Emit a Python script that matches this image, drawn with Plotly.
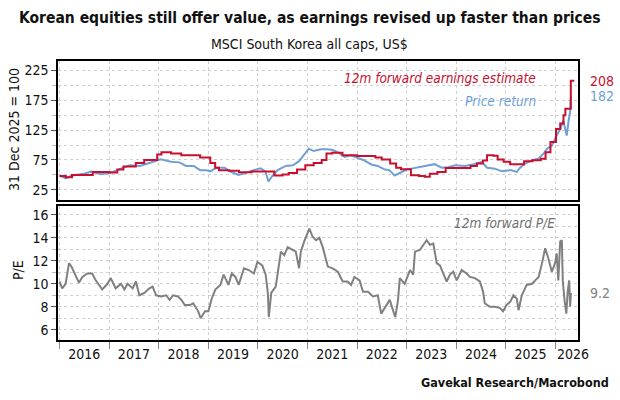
import plotly.graph_objects as go
from plotly.subplots import make_subplots

# ---------------- data ----------------
earn_dates = ["2016-01-01","2016-02-15","2016-04-01","2016-09-01","2017-01-01","2017-03-01","2017-04-15",
              "2017-07-15","2017-09-15","2017-12-20","2018-01-20","2018-04-01","2018-06-15","2018-11-01",
              "2019-01-15","2019-02-20","2019-03-20","2019-06-01","2019-08-15","2019-11-15","2020-05-01",
              "2020-07-01","2020-08-15","2020-10-15","2020-12-15","2021-02-15","2021-04-15","2021-05-20",
              "2021-07-01","2021-09-15","2022-01-01","2022-05-15","2022-07-01","2022-09-01","2022-10-15",
              "2022-11-20","2023-02-01","2023-04-01","2023-05-15","2023-06-20","2023-08-15","2023-10-15",
              "2024-04-15","2024-06-01","2024-07-15","2024-08-15","2024-10-01","2024-11-01","2024-12-15",
              "2025-02-01","2025-05-15","2025-07-15","2025-09-15","2025-10-20","2025-11-25","2026-01-05",
              "2026-02-05","2026-03-01","2026-03-15","2026-04-24","2026-05-20"]
earn_vals = [48,46,50,55,54,59,64,70,75,84,88,86,83,79,70,62,58,57,54.5,55.6,49,50.5,53,59,66,70,75,86,
             87,83,81.6,79,76,69,62,59.5,49.4,48,46.7,52,55,61.7,65,69,74,83,82,76,72,68,73,74.5,77,88,
             105,127,136,150,161,208,208]

price_dates = ["2016-01-01","2016-02-15","2016-04-01","2016-07-01","2016-08-20","2016-11-01","2017-01-01",
               "2017-03-20","2017-06-01","2017-08-15","2017-11-01","2018-01-15","2018-04-01","2018-06-01",
               "2018-07-20","2018-09-15","2018-11-01","2018-12-15","2019-01-15","2019-03-01","2019-05-01",
               "2019-06-10","2019-08-10","2019-10-01","2019-12-01","2020-01-20","2020-02-25","2020-03-18",
               "2020-04-15","2020-05-25","2020-07-25","2020-09-15","2020-10-30","2020-12-05","2021-01-10",
               "2021-02-15","2021-04-10","2021-05-20","2021-07-01","2021-08-10","2021-10-01","2021-11-15",
               "2022-01-01","2022-02-15","2022-04-15","2022-06-01","2022-07-25","2022-08-25","2022-10-05",
               "2022-11-10","2023-01-01","2023-02-05","2023-03-28","2023-05-25","2023-07-25","2023-09-15",
               "2023-11-01","2023-12-25","2024-03-05","2024-05-08","2024-07-08","2024-08-15","2024-10-12",
               "2024-12-01","2025-02-03","2025-03-22","2025-04-16","2025-05-22","2025-07-12","2025-08-28",
               "2025-10-05","2025-10-30","2025-12-05","2026-01-10","2026-02-05","2026-02-28","2026-03-14",
               "2026-03-25","2026-04-08","2026-04-18","2026-04-25"]
price_vals = [49,44,49,52,55.6,51,53,60,66,65,71,76,72,71,65,65,58,58,56,62,62,56,50,53,58,61,56,39,48,
              58,65,66,73,84,94,90,93,93,92,88,80,83,79,75,67.5,65,59,58,49,53,59,60.5,63,66,68,62,63,66,
              65,68,72,62,60.5,56,58,55,62,69,74.5,77,85.5,94,99,116,127,141,124,116,141,155,182]

pe_dates = ["2016-01-01","2016-01-20","2016-02-14","2016-03-10","2016-03-28","2016-04-26","2016-05-22",
            "2016-06-17","2016-07-23","2016-08-28","2016-09-23","2016-11-10","2016-12-19","2017-01-11",
            "2017-02-17","2017-03-28","2017-04-22","2017-05-16","2017-06-22","2017-07-16","2017-08-10",
            "2017-09-16","2017-10-23","2017-11-16","2017-12-12","2018-01-19","2018-02-24","2018-03-21",
            "2018-04-15","2018-05-22","2018-06-16","2018-07-11","2018-08-18","2018-09-11","2018-10-18",
            "2018-11-05","2018-12-07","2019-01-01","2019-01-25","2019-02-21","2019-03-30","2019-04-23",
            "2019-05-29","2019-06-22","2019-07-19","2019-08-12","2019-09-20","2019-10-26","2019-12-02",
            "2019-12-28","2020-02-02","2020-02-27","2020-03-14","2020-03-21","2020-04-08","2020-05-11",
            "2020-05-23","2020-06-18","2020-07-13","2020-08-07","2020-09-13","2020-10-06","2020-10-30",
            "2020-11-12","2020-12-07","2021-01-14","2021-02-07","2021-03-04","2021-03-29","2021-04-22",
            "2021-05-30","2021-07-05","2021-08-11","2021-09-17","2021-10-23","2021-11-17","2021-12-12",
            "2022-01-19","2022-02-13","2022-03-22","2022-04-27","2022-06-02","2022-06-27","2022-08-03",
            "2022-08-29","2022-09-30","2022-10-09","2022-10-29","2022-11-11","2022-12-17","2023-01-25",
            "2023-02-18","2023-03-03","2023-04-08","2023-05-04","2023-05-28","2023-06-21","2023-07-16",
            "2023-08-10","2023-09-03","2023-09-27","2023-10-22","2023-11-16","2023-12-10","2024-01-04",
            "2024-02-10","2024-03-17","2024-04-11","2024-05-17","2024-06-23","2024-07-17","2024-07-29",
            "2024-09-04","2024-10-10","2024-11-16","2024-12-11","2025-01-05","2025-02-03","2025-02-25",
            "2025-03-22","2025-04-04","2025-04-28","2025-06-03","2025-07-12","2025-08-05","2025-08-30",
            "2025-09-24","2025-10-17","2025-11-10","2025-12-05","2025-12-29","2026-01-10","2026-01-22",
            "2026-02-05","2026-02-17","2026-02-24","2026-03-10","2026-03-22","2026-04-01","2026-04-12",
            "2026-04-19","2026-04-25"]
pe_vals = [10.2,9.6,10.0,11.8,11.5,10.8,10.1,10.6,10.9,10.9,10.3,9.5,10.0,10.5,9.6,10.0,9.5,10.0,9.6,10.2,
           9.0,9.2,9.6,9.75,9.0,8.9,9.0,8.6,9.0,8.9,8.6,8.15,8.15,8.3,7.6,7.0,7.6,7.6,8.7,9.5,9.9,10.8,
           9.9,10.9,10.6,9.9,11.35,11.2,10.9,11.9,11.6,10.8,9.2,7.1,9.2,9.75,10.8,12.8,12.5,13.2,12.95,
           12.8,11.35,12.8,13.7,14.8,14.1,13.8,14.0,13.2,11.5,11.35,11.05,10.2,10.2,9.9,10.6,10.3,9.3,
           9.3,8.9,9.0,7.4,8.15,8.6,7.4,7.1,8.6,10.5,10.0,11.2,10.8,12.8,12.95,13.4,13.8,13.4,13.5,11.8,
           11.6,10.9,10.2,10.8,11.05,10.3,11.2,10.9,10.6,10.5,10.2,9.3,8.3,8.0,8.0,7.9,7.6,8.15,8.45,9.0,
           8.7,7.7,9.0,9.9,10.0,10.3,10.6,11.8,13.1,12.2,11.05,11.8,12.65,10.3,13.7,13.8,10.2,8.45,7.4,
           9.3,10.3,8.0,9.2]

year_labels = ["2016","2017","2018","2019","2020","2021","2022","2023","2024","2025","2026"]
top_ticks = [25, 75, 125, 175, 225]
pe_ticks = [6, 8, 10, 12, 14, 16]

# ---------------- style ----------------
FONT = "DejaVu Sans Condensed, Roboto, sans-serif"
RED = "#C8102E"
BLUE = "#6F9FD6"
GREY = "#808080"
GRID = "#cfcfcf"
X_END = "2026-06-16"

# label positions: middle of each year (last one kept inside the axis)
label_pos = [f"{y}-07-01" if y != year_labels[-1] else f"{y}-05-10" for y in year_labels]

fig = make_subplots(rows=2, cols=1, shared_xaxes=True, vertical_spacing=0.02)

fig.add_trace(go.Scatter(x=price_dates, y=price_vals, mode="lines", line=dict(color=BLUE, width=2),
                         showlegend=False), row=1, col=1)
fig.add_trace(go.Scatter(x=earn_dates, y=earn_vals, mode="lines", line=dict(color=RED, width=2, shape="hv"),
                         showlegend=False), row=1, col=1)
fig.add_trace(go.Scatter(x=pe_dates, y=pe_vals, mode="lines", line=dict(color=GREY, width=2),
                         showlegend=False), row=2, col=1)

xcommon = dict(type="date", range=["2015-12-20", X_END],
               tickvals=label_pos, ticktext=year_labels, ticks="", showgrid=False,
               minor=dict(dtick="M12", tick0="2016-01-01", showgrid=True, gridcolor=GRID,
                          griddash="dot", gridwidth=1),
               showline=True, linecolor="black", linewidth=1.5, mirror=True, zeroline=False)
fig.update_xaxes(**xcommon)
fig.update_xaxes(showticklabels=False, row=1, col=1)
fig.update_xaxes(minor=dict(ticks="outside", ticklen=7, tickcolor="#888888"),
                 tickfont=dict(family=FONT, size=14, color="#111"), row=2, col=1)

fig.update_yaxes(range=[8, 241], tickvals=top_ticks, showgrid=True, gridcolor=GRID, griddash="dot",
                 ticks="outside", ticklen=5, tickcolor="#555",
                 minor=dict(dtick=25, tick0=0, showgrid=True, gridcolor=GRID, griddash="dot",
                            ticks="outside", ticklen=4, tickcolor="#bbbbbb"),
                 showline=True, linecolor="black", linewidth=1.5, mirror=True, zeroline=False,
                 tickfont=dict(family=FONT, size=14, color="#111"), row=1, col=1)
fig.update_yaxes(range=[5.1, 16.8], tickvals=pe_ticks, showgrid=True, gridcolor=GRID, griddash="dot",
                 ticks="outside", ticklen=5, tickcolor="#555",
                 minor=dict(dtick=1, tick0=0, showgrid=True, gridcolor=GRID, griddash="dot",
                            ticks="outside", ticklen=4, tickcolor="#bbbbbb"),
                 showline=True, linecolor="black", linewidth=1.5, mirror=True, zeroline=False,
                 tickfont=dict(family=FONT, size=14, color="#111"), row=2, col=1)

fig.update_layout(
    width=620, height=400,
    margin=dict(l=58, r=42, t=61, b=60),
    paper_bgcolor="white", plot_bgcolor="white",
    font=dict(family=FONT, color="#111"),
)
fig.update_yaxes(domain=[0.502, 1.0], row=1, col=1)
fig.update_yaxes(domain=[0.0, 0.481], row=2, col=1)

ann = []
ann.append(dict(text="<b>Korean equities still offer value, as earnings revised up faster than prices</b>",
                xref="paper", yref="paper", x=(310 - 58) / 520, y=1 + (61 - 18) / 279,
                xanchor="center", yanchor="middle", showarrow=False,
                font=dict(family=FONT, size=15.5, color="#111")))
ann.append(dict(text="MSCI South Korea all caps, US$", xref="paper", yref="paper",
                x=(309 - 58) / 520, y=1 + (61 - 44) / 279, xanchor="center", yanchor="middle",
                showarrow=False, font=dict(family=FONT, size=14, color="#111")))
ann.append(dict(text="<b>Gavekal Research/Macrobond</b>", xref="paper", yref="paper",
                x=(611 - 58) / 520, y=-(382 - 340) / 279, xanchor="right", yanchor="middle",
                showarrow=False, font=dict(family=FONT, size=12.5, color="#111")))
ann.append(dict(text="31 Dec 2025 = 100", xref="paper", yref="paper", x=(14 - 58) / 520,
                y=(340 - 130) / 279, textangle=-90, xanchor="center", yanchor="middle",
                showarrow=False, font=dict(family=FONT, size=14, color="#111")))
ann.append(dict(text="P/E", xref="paper", yref="paper", x=(18 - 58) / 520,
                y=(340 - 270) / 279, textangle=-90, xanchor="center", yanchor="middle",
                showarrow=False, font=dict(family=FONT, size=14, color="#111")))
ann.append(dict(text="<i>12m forward earnings estimate</i>", xref="paper", yref="paper",
                x=(538 - 58) / 520, y=(340 - 78) / 279, xanchor="right", yanchor="middle",
                showarrow=False, font=dict(family=FONT, size=13.5, color=RED)))
ann.append(dict(text="<i>Price return</i>", xref="paper", yref="paper",
                x=(538 - 58) / 520, y=(340 - 101) / 279, xanchor="right", yanchor="middle",
                showarrow=False, font=dict(family=FONT, size=13.5, color=BLUE)))
ann.append(dict(text="<i>12m forward P/E</i>", xref="paper", yref="paper",
                x=(557 - 58) / 520, y=(340 - 223) / 279, xanchor="right", yanchor="middle",
                showarrow=False, font=dict(family=FONT, size=13.5, color="#707070")))
# end-value labels
ann.append(dict(text=f"{earn_vals[-1]:g}", xref="paper", yref="y", x=(588 - 58) / 520, y=earn_vals[-1],
                xanchor="left", yanchor="middle", showarrow=False,
                font=dict(family=FONT, size=14, color=RED)))
ann.append(dict(text=f"{price_vals[-1]:g}", xref="paper", yref="y", x=(588 - 58) / 520, y=price_vals[-1],
                xanchor="left", yanchor="middle", showarrow=False,
                font=dict(family=FONT, size=14, color=BLUE)))
ann.append(dict(text=f"{pe_vals[-1]:g}", xref="paper", yref="y2", x=(588 - 58) / 520, y=pe_vals[-1],
                xanchor="left", yanchor="middle", showarrow=False,
                font=dict(family=FONT, size=14, color=GREY)))
fig.update_layout(annotations=ann)

fig.write_html("out.html")
